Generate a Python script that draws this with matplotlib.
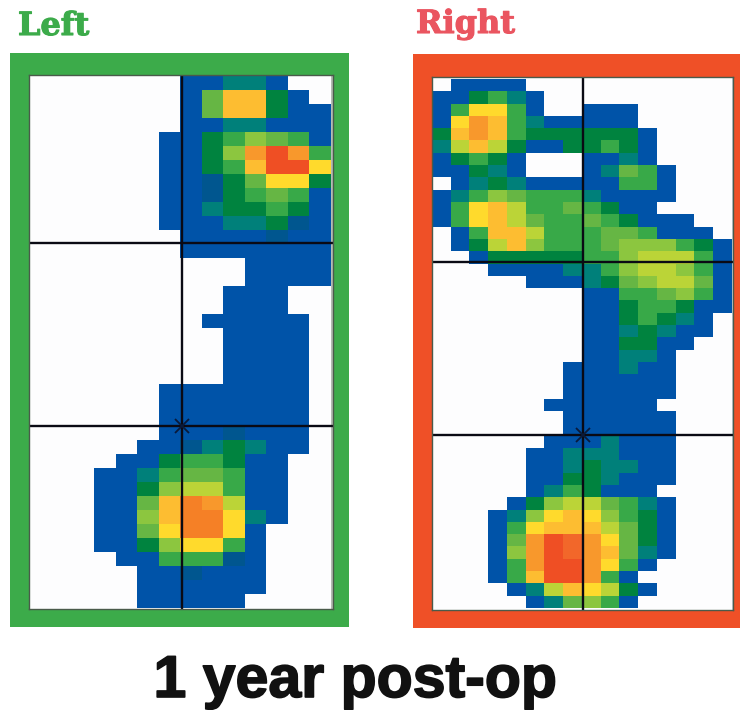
import numpy as np
import matplotlib
matplotlib.use('Agg')
import matplotlib.pyplot as plt
import matplotlib.patheffects as pe
from matplotlib.colors import ListedColormap
from matplotlib.patches import Rectangle

# pressure levels, low to high, one letter per cell
niveles = '.bdtgmlkysaoqrR'
colores = ['#fdfdfe', '#0053a8', '#00568f', '#00807a', '#00833f', '#38a948', '#66b644',
           '#8cc63f', '#bbd437', '#ffda2c', '#fdbd31', '#f8982c', '#f58026', '#f2672a', '#ef4f24']

izquierda = [
    '.......bbttb..',
    '.......blaagb.',
    '.......blaagbb',
    '.......bbttbbb',
    '......bbgmklmb',
    '......bbgkoRom',
    '......bbgmaRRs',
    '......bbdglssg',
    '......bbdgmlmb',
    '......bbtggmgb',
    '......bbbttgdb',
    '.......bbbbdbb',
    '.......bbbbbbb',
    '..........bbbb',
    '..........bbbb',
    '.........bbb..',
    '.........bbb..',
    '........bbbbb.',
    '.........bbbb.',
    '.........bbbb.',
    '.........bbbb.',
    '.........bbbb.',
    '......bbbbbbb.',
    '......bbbbbbb.',
    '......bbbbbbb.',
    '......bbbdbbb.',
    '.....bbdtgtbb.',
    '....bbgmmgbb..',
    '...bbtmllmbb..',
    '...bbgkyymbb..',
    '...bblaqoybb..',
    '...bbkaqqstb..',
    '...bblsqqsb...',
    '...bbgkssmb...',
    '....bbmmmdb...',
    '.....bbdbbb...',
    '.....bbbbbb...',
    '.....bbbbb....',
]

derecha = [
    '.bbbb...........',
    'bbgmtb..........',
    'bmssmb..bbb.....',
    'bsoamtbbbbb.....',
    'gaoamggggggb....',
    'tyaygbbggmgb....',
    'bgmgb...bbtb....',
    'bbgtb...btlmb...',
    '.btgtbbbbbmmb...',
    'btmklmmmtbbbb...',
    'bmsaymmlmgbb....',
    'bmsaylmmlmgbbb..',
    '.bmaaymmmllmbbb.',
    '.bgyakmmmlkkkmgb',
    '..bgggggmmkyyymb',
    '...bbbbttmkyykmb',
    '.....bbbtglkyylb',
    '........bbmmlkmb',
    '........bbgmmgbb',
    '........bbgmgtb.',
    '........bbtgtbb.',
    '........bbggbb..',
    '........bbttb...',
    '.......bbbtbb...',
    '.......bbbbbb...',
    '.......bbbbbb...',
    '......bbbbbb....',
    '.......bbbbbb...',
    '.......bbbbbb...',
    '......bbbtbbb...',
    '.....bbtttbbb...',
    '.....bbtgttbb...',
    '.....bbggtbbb...',
    '.....btmgbbb....',
    '....bgkyylmtb...',
    '...btksaskmgb...',
    '...bmsaaaylgb...',
    '...bloRroslgb...',
    '...bkoRroaltb...',
    '...bmoRRosmb....',
    '...bmaRRomb.....',
    '....btyasygb....',
    '.....btlkmb.....',
]

titulo = '1 year post-op'
rotulos = ['Left', 'Right']


def a_matriz(filas):
    return np.array([[niveles.index(c) for c in f] for f in filas])


W, H = 740, 710
fig = plt.figure(figsize=(W / 100, H / 100), dpi=100, facecolor='white')
cmap = ListedColormap(colores)


def panel(filas, marco, interior, celdas, color, xv, yh, franja):
    # marco, interior y celdas en pixeles de la figura: x0, x1, y0, y1
    x0, x1, y0, y1 = marco
    fig.add_artist(Rectangle((x0 / W, 1 - y1 / H), (x1 - x0) / W, (y1 - y0) / H,
                             transform=fig.transFigure, facecolor=color, edgecolor='none', zorder=-1))
    ix0, ix1, iy0, iy1 = interior
    ax = fig.add_axes([ix0 / W, 1 - iy1 / H, (ix1 - ix0) / W, (iy1 - iy0) / H])
    ax.imshow(a_matriz(filas), cmap=cmap, vmin=0, vmax=len(niveles) - 1,
              extent=(celdas[0], celdas[1], celdas[3], celdas[2]),
              interpolation='nearest', aspect='auto')
    ax.set_xlim(ix0, ix1)
    ax.set_ylim(iy1, iy0)
    ax.set_facecolor('#fdfdfe')
    ax.set_xticks([])
    ax.set_yticks([])
    for s in ax.spines.values():
        s.set_color('#4a5a4a')
        s.set_linewidth(1.0)
    # franja gris del borde derecho
    ax.axvspan(celdas[1], ix1, color=franja, lw=0)
    ax.axvline(xv, color='#0a0a14', lw=1.7)
    for y in yh:
        ax.axhline(y, color='#0a0a14', lw=1.7)
    ax.plot([xv], [yh[1]], marker='x', ms=10, mew=1.3, color='#0a1a3a', ls='none')
    return ax


panel(izquierda, (10, 349, 53, 627), (29, 333, 75, 609), (30.4, 330.7, 76.7, 608),
      '#3cab4a', 182, (243, 426), '#b4bab4')
panel(derecha, (413, 741, 54, 628), (432, 733, 77, 610), (432.3, 731.7, 79, 608),
      '#ef5027', 583, (262, 435), '#c0cdd4')

grueso = [pe.withStroke(linewidth=0.8, foreground='#3cab4a')]
fig.text(18 / W, 1 - 35 / H, rotulos[0], family='DejaVu Serif', weight='bold',
         fontsize=23, color='#3cab4a', path_effects=grueso)
grueso = [pe.withStroke(linewidth=0.8, foreground='#ea5560')]
fig.text(416 / W, 1 - 33 / H, rotulos[1], family='DejaVu Serif', weight='bold',
         fontsize=23, color='#ea5560', path_effects=grueso)
fig.text(355 / W, 1 - 697 / H, titulo, family='Liberation Sans', weight='bold',
         fontsize=42.5, color='#111111', ha='center',
         path_effects=[pe.withStroke(linewidth=1.2, foreground='#111111')])

fig.savefig('out.png', dpi=100)
